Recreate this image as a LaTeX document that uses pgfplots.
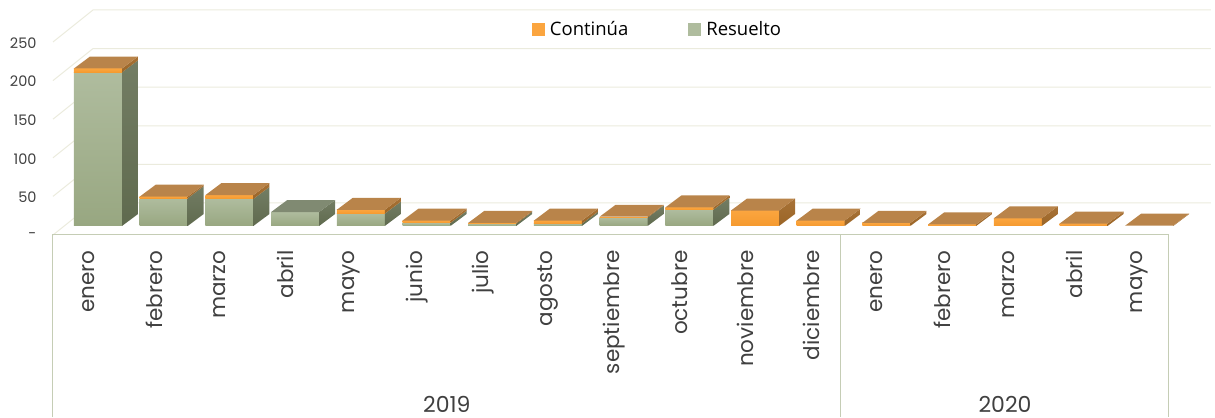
\documentclass[border=0pt]{standalone}
\usepackage{pgfplots}
\usepackage{pgfplotstable}
\pgfplotsset{compat=1.18}
\usepackage{fontspec}
\setmainfont{Poppins}
\newfontfamily\legfont{Open Sans}
\definecolor{gridc}{HTML}{EBEBDD}
\definecolor{framec}{HTML}{C5CDB5}
\definecolor{gfT}{HTML}{AFBC9E}
\definecolor{gfB}{HTML}{98A781}
\definecolor{gsT}{HTML}{737D64}
\definecolor{gsB}{HTML}{5F6A4E}
\definecolor{ofT}{HTML}{FBA53F}
\definecolor{ofB}{HTML}{F59A2F}
\definecolor{osT}{HTML}{A87236}
\definecolor{osB}{HTML}{9A6527}
\definecolor{topo}{HTML}{B9844A}
\definecolor{topg}{HTML}{808A72}
\definecolor{txt}{HTML}{404040}
\pgfplotstableread{
i res con
0 199 5
1 36 2
2 35 5
3 18 0
4 16 5
5 4 3
6 3 1
7 3 4
8 11 1
9 21 3
10 0 20
11 0 7
12 0 4
13 0 2
14 0 10
15 0 3
16 0 0.5
}\bardata
\newcommand{\quadface}[9]{%
  \edef\cmd{\noexpand\addplot[#1,draw=none,forget plot] coordinates {(#2,#3) (#4,#5) (#6,#7) (#8,#9)} --cycle;}\cmd}
\begin{document}
\begin{tikzpicture}
\begin{axis}[
  scale only axis, width=1215pt, height=417pt,
  xmin=-1.4916, xmax=17.0015, ymin=-247.4, ymax=292.7,
  clip=false,
  axis line style={draw=none},
  major tick length=0pt, minor tick length=0pt,
  tick style={draw=none},
  ytick={0,50,100,150,200,250},
  yticklabels={-,50,100,150,200,250},
  yticklabel style={anchor=east, xshift=40pt, yshift=-10pt, text=txt, font=\fontsize{14.5}{15}\selectfont},
  xtick={0,1,...,16},
  xticklabels={enero,febrero,marzo,abril,mayo,junio,julio,agosto,septiembre,octubre,noviembre,diciembre,enero,febrero,marzo,abril,mayo},
  xticklabel style={xshift=-9.5pt, yshift=170pt, rotate=90, anchor=east, text=txt, font=\fontsize{21.5}{22}\selectfont},
  legend style={draw=none, fill=none, at={(axis cs:8.516,255)}, anchor=center, legend columns=2,
    font=\legfont\fontsize{18.5}{22}\selectfont,
    /tikz/every odd column/.append style={column sep=4pt},
    /tikz/every even column/.append style={column sep=58pt}},
]
% back wall grid
\pgfplotsforeachungrouped \v in {0,50,100,150,200,250}{%
  \pgfmathsetmacro\yf{\v-11.66}%
  \pgfmathsetmacro\yb{\v+29.8}%
  \edef\cmd{\noexpand\addplot[gridc,line width=1pt,forget plot] coordinates {(-0.685,\yf) (-0.076,\yb) (16.94,\yb)};}\cmd
}
% category frame
\addplot[framec,line width=1pt,forget plot] coordinates {(-0.685,-247.4) (-0.685,-11.66) (16.30,-11.66) (16.30,-247.4)};
\addplot[framec,line width=1pt,forget plot] coordinates {(11.305,-11.66) (11.305,-247.4)};
% bars
\pgfplotsforeachungrouped \k in {0,1,...,16}{%
  \pgfplotstablegetelem{\k}{res}\of\bardata \let\rv\pgfplotsretval
  \pgfplotstablegetelem{\k}{con}\of\bardata \let\cv\pgfplotsretval
  \pgfmathsetmacro\xl{\k-0.3653}%
  \pgfmathsetmacro\xr{\k+0.3653}%
  \pgfmathsetmacro\xlb{\xl+0.2435}%
  \pgfmathsetmacro\xrb{\xr+0.2435}%
  \pgfmathsetmacro\ytop{\rv+\cv}%
  \pgfmathsetmacro\yrb{\rv+15.5}%
  \pgfmathsetmacro\ytb{\ytop+15.5}%
  \ifdim\rv pt>0pt
    \quadface{top color=gfT,bottom color=gfB}{\xl}{0}{\xr}{0}{\xr}{\rv}{\xl}{\rv}%
    \quadface{top color=gsT,bottom color=gsB}{\xr}{0}{\xrb}{15.5}{\xrb}{\yrb}{\xr}{\rv}%
  \fi
  \ifdim\cv pt>0pt
    \quadface{top color=ofT,bottom color=ofB}{\xl}{\rv}{\xr}{\rv}{\xr}{\ytop}{\xl}{\ytop}%
    \quadface{top color=osT,bottom color=osB}{\xr}{\rv}{\xrb}{\yrb}{\xrb}{\ytb}{\xr}{\ytop}%
    \quadface{fill=topo}{\xl}{\ytop}{\xr}{\ytop}{\xrb}{\ytb}{\xlb}{\ytb}%
  \else
    \quadface{fill=topg}{\xl}{\ytop}{\xr}{\ytop}{\xrb}{\ytb}{\xlb}{\ytb}%
  \fi
}
\addlegendimage{only marks,mark=square*,mark size=6pt,color=ofT,mark options={draw=ofT,fill=ofT}}
\addlegendentry{Continúa}
\addlegendimage{only marks,mark=square*,mark size=6pt,color=gfT,mark options={draw=gfT,fill=gfT}}
\addlegendentry{Resuelto}
\node[text=txt,font=\fontsize{22}{24}\selectfont] at (axis cs:5.31,-230.6) {2019};
\node[text=txt,font=\fontsize{22}{24}\selectfont] at (axis cs:13.805,-230.6) {2020};
\end{axis}
\end{tikzpicture}
\end{document}
